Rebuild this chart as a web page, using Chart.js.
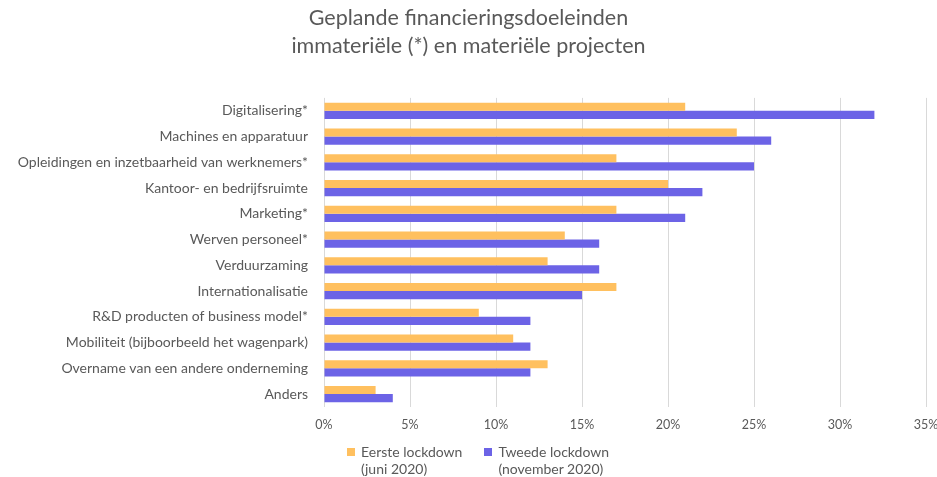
<!DOCTYPE html>
<html lang="nl">
<head>
  <meta charset="UTF-8" />
  <title>Geplande financieringsdoeleinden</title>
  <script src="https://cdn.jsdelivr.net/npm/chart.js"></script>
  <style>
    html, body { margin: 0; padding: 0; background: #fff; }
    .wrap { position: relative; width: 937px; height: 477px; }
    #legend {
      position: absolute; top: 443px; left: 347px;
      display: flex; gap: 22px;
      font-family: Lato, sans-serif; font-size: 14px; color: #595959; line-height: 17px;
    }
    .item { display: flex; align-items: flex-start; }
    .box { width: 8px; height: 8px; margin: 5px 6px 0 0; }
  </style>
</head>
<body>
<div class="wrap">
  <canvas id="chart" width="937" height="477"></canvas>
  <div id="legend"></div>
</div>
<script>
  const categories = [
    'Digitalisering*',
    'Machines en apparatuur',
    'Opleidingen en inzetbaarheid van werknemers*',
    'Kantoor- en bedrijfsruimte',
    'Marketing*',
    'Werven personeel*',
    'Verduurzaming',
    'Internationalisatie',
    'R&D producten of business model*',
    'Mobiliteit (bijboorbeeld het wagenpark)',
    'Overname van een andere onderneming',
    'Anders'
  ];
  const eersteLockdown = [21, 24, 17, 20, 17, 14, 13, 17, 9, 11, 13, 3];
  const tweedeLockdown = [32, 26, 25, 22, 21, 16, 16, 15, 12, 12, 12, 4];
  const seriesLabels = [['Eerste lockdown', '(juni 2020)'], ['Tweede lockdown', '(november 2020)']];
  const seriesColors = ['#FFC05F', '#6C63E6'];

  const grey = '#595959';

  new Chart(document.getElementById('chart'), {
    type: 'bar',
    data: {
      labels: categories,
      datasets: [
        { label: seriesLabels[0].join(' '), data: eersteLockdown, backgroundColor: seriesColors[0] },
        { label: seriesLabels[1].join(' '), data: tweedeLockdown, backgroundColor: seriesColors[1] }
      ]
    },
    options: {
      indexAxis: 'y',
      responsive: false,
      animation: false,
      layout: { padding: { left: 0, right: 0, top: 4, bottom: 35 } },
      datasets: { bar: { categoryPercentage: 0.63, barPercentage: 1 } },
      scales: {
        x: {
          min: 0, max: 35,
          afterFit: s => { s.paddingRight = 11; },
          ticks: { stepSize: 5, color: grey, padding: 10, font: { family: 'Lato', size: 12.5 }, callback: v => v + '%' },
          grid: { color: '#d9d9d9', drawTicks: false },
          border: { display: false }
        },
        y: {
          afterFit: s => { s.width = 324; },
          ticks: { color: grey, padding: 16, font: { family: 'Lato', size: 14 } },
          grid: { display: false, drawTicks: false },
          border: { display: false }
        }
      },
      plugins: {
        legend: { display: false },
        tooltip: { enabled: false },
        title: {
          display: true,
          text: ['Geplande financieringsdoeleinden', 'immateriële (*) en materiële projecten'],
          color: grey,
          font: { family: 'Lato', size: 21.5, weight: 'normal', lineHeight: 1.3 },
          padding: { top: 0, bottom: 38 }
        }
      }
    }
  });

  // legend with two-line labels
  const legendEl = document.getElementById('legend');
  seriesLabels.forEach((lines, i) => {
    const item = document.createElement('div');
    item.className = 'item';
    item.innerHTML = '<div class="box" style="background:' + seriesColors[i] + '"></div><div>' + lines.join('<br>') + '</div>';
    legendEl.appendChild(item);
  });
</script>
</body>
</html>
